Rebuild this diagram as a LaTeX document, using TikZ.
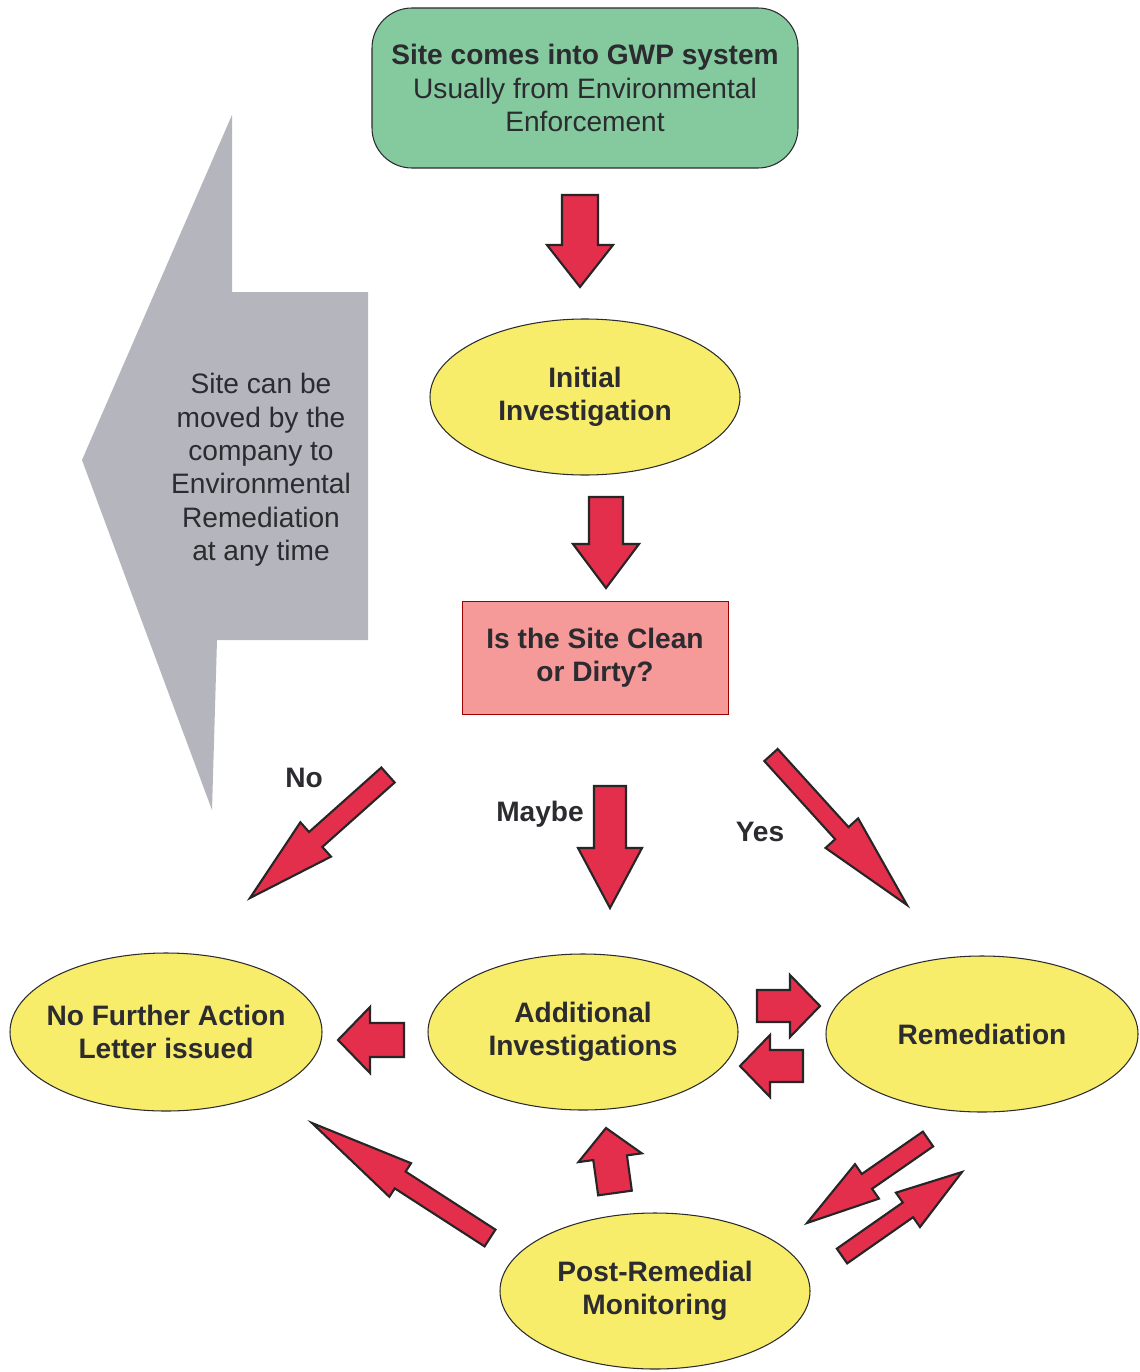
\documentclass[tikz,border=0pt]{standalone}
\usepackage{fontspec}
\setmainfont{Liberation Sans}
\usepackage{tikz}
\usetikzlibrary{calc}
\usetikzlibrary{shapes.geometric}
\definecolor{bgreen}{rgb}{0.52, 0.79, 0.62}
\definecolor{byellow}{rgb}{0.97, 0.93, 0.42}
\definecolor{bpink}{rgb}{0.96, 0.60, 0.60}
\definecolor{bred}{rgb}{0.89, 0.18, 0.30}
\definecolor{bgrey}{rgb}{0.71, 0.71, 0.74}
\definecolor{btext}{rgb}{0.17, 0.17, 0.19}
\newcommand{\px}{0.02cm}
\tikzset{txt/.style = {font=\fontsize{16}{19}\selectfont, text=btext, align=center},
         oval/.style = {txt, ellipse, draw=btext, line width=0.6pt, fill=byellow,
                        minimum width=310*\px, minimum height=156*\px, inner xsep=-40pt, inner ysep=0pt,
                        font=\fontsize{16}{19}\selectfont\bfseries},
         fat/.style = {fill=bred, draw=black!85, line width=1.2pt, line join=miter}}
% block arrow: tail, tip, shaft half width, head half width, head length (in px)
\newcommand{\fatarrow}[5]{%
  \coordinate (h) at ($(#2)!#5*\px!(#1)$);
  \draw [fat] ($(#1)!#3*\px!90:(#2)$) -- ($(h)!#3*\px!90:(#2)$) -- ($(h)!#4*\px!90:(#2)$)
    -- (#2) -- ($(h)!#4*\px!-90:(#2)$) -- ($(h)!#3*\px!-90:(#2)$) -- ($(#1)!#3*\px!-90:(#2)$) -- cycle;}

\begin{document}
\begin{tikzpicture}[x=0.02cm, y=-0.02cm]
    \useasboundingbox [fill=white] (0, 0) rectangle (1139, 1372);

    % company arrow on the left
    \fill [bgrey] (232, 115) -- (232, 292) -- (368, 292) -- (368, 640) -- (217, 640) -- (212, 810) -- (82, 460) -- cycle;
    \node [txt] (move) at (261, 470) {Site can be\\moved by the\\company to\\Environmental\\Remediation\\at any time};

    \node [txt, draw=btext, line width=0.6pt, fill=bgreen, rounded corners=0.8cm,
           minimum width=426*\px, minimum height=160*\px] (gwp) at (585, 88)
          {\textbf{Site comes into GWP system}\\Usually from Environmental\\Enforcement};
    \node [oval] (initial) at (585, 397) {Initial\\Investigation};
    \node [txt, font=\fontsize{16}{19}\selectfont\bfseries, draw=red!60!black, line width=0.5pt, fill=bpink,
           minimum width=266*\px, minimum height=113*\px] (clean) at (595, 658) {Is the Site Clean\\or Dirty?};
    \node [oval, minimum width=312*\px, minimum height=158*\px] (nfa) at (166, 1032) {No Further Action\\Letter issued};
    \node [oval] (additional) at (583, 1032) {Additional\\Investigations};
    \node [oval, minimum width=312*\px] (remediation) at (982, 1034) {Remediation};
    \node [oval] (monitoring) at (655, 1291) {Post-Remedial\\Monitoring};

    \node [txt, font=\fontsize{16}{19}\selectfont\bfseries] (no) at (304, 778) {No};
    \node [txt, font=\fontsize{16}{19}\selectfont\bfseries] (maybe) at (540, 814) {Maybe};
    \node [txt, font=\fontsize{16}{19}\selectfont\bfseries] (yes) at (760, 832) {Yes};

    \coordinate (a1s) at (580, 195);   \coordinate (a1e) at (580, 287);
    \coordinate (a2s) at (606, 497);   \coordinate (a2e) at (606, 588);
    \coordinate (nos) at (388, 775);   \coordinate (noe) at (250, 898);
    \coordinate (mys) at (610, 786);   \coordinate (mye) at (610, 908);
    \coordinate (yss) at (771, 755);   \coordinate (yse) at (907, 905);
    \coordinate (nfs) at (404, 1040);  \coordinate (nfe) at (338, 1040);
    \coordinate (ras) at (757, 1006);  \coordinate (rae) at (820, 1006);
    \coordinate (rbs) at (803, 1066);  \coordinate (rbe) at (740, 1066);
    \coordinate (ups) at (615, 1193);  \coordinate (upe) at (606, 1128);
    \coordinate (pns) at (490, 1238);  \coordinate (pne) at (312, 1123);
    \coordinate (rms) at (928, 1139);  \coordinate (rme) at (807, 1223);
    \coordinate (mrs) at (842, 1256);  \coordinate (mre) at (962, 1172);

    \fatarrow{a1s}{a1e}{18}{33}{42}
    \fatarrow{a2s}{a2e}{17}{33}{44}
    \fatarrow{nos}{noe}{10}{23}{88}
    \fatarrow{mys}{mye}{16}{32}{60}
    \fatarrow{yss}{yse}{9}{22}{97}
    \fatarrow{nfs}{nfe}{17}{33}{32}
    \fatarrow{ras}{rae}{16}{31}{30}
    \fatarrow{rbs}{rbe}{16}{31}{30}
    \fatarrow{ups}{upe}{17}{32}{30}
    \fatarrow{pns}{pne}{10}{20}{105}
    \fatarrow{rms}{rme}{9}{21}{73}
    \fatarrow{mrs}{mre}{9}{21}{66}
\end{tikzpicture}
\end{document}
